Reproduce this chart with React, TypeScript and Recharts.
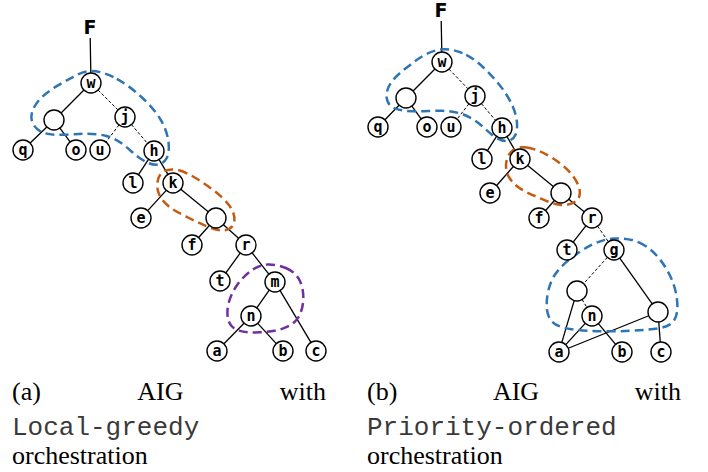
import { ComposedChart, XAxis, YAxis, Scatter, Line, ReferenceLine } from 'recharts'

const W = 708
const H = 472
const R = 10

type Node = { id: string; x: number; y: number; label: string; kind?: 'out' | 'blank' }
type Edge = [string, string, boolean?]
type Pt = { x: number; y: number }

// (a) Local-greedy
const nodesA: Node[] = [
  { id: 'F', x: 90, y: 27, label: 'F', kind: 'out' },
  { id: 'w', x: 91, y: 83, label: 'w' },
  { id: 'g1', x: 54, y: 120, label: '', kind: 'blank' },
  { id: 'j', x: 125, y: 117, label: 'j' },
  { id: 'q', x: 23, y: 150, label: 'q' },
  { id: 'o', x: 76, y: 150, label: 'o' },
  { id: 'u', x: 100, y: 150, label: 'u' },
  { id: 'h', x: 154, y: 151, label: 'h' },
  { id: 'l', x: 133, y: 183, label: 'l' },
  { id: 'k', x: 173, y: 183, label: 'k' },
  { id: 'e', x: 141, y: 218, label: 'e' },
  { id: 'g2', x: 216, y: 218, label: '', kind: 'blank' },
  { id: 'f', x: 192, y: 245, label: 'f' },
  { id: 'r', x: 246, y: 245, label: 'r' },
  { id: 't', x: 220, y: 281, label: 't' },
  { id: 'm', x: 275, y: 282, label: 'm' },
  { id: 'n', x: 251, y: 316, label: 'n' },
  { id: 'a', x: 217, y: 351, label: 'a' },
  { id: 'b', x: 283, y: 351, label: 'b' },
  { id: 'c', x: 316, y: 351, label: 'c' },
]

const edgesA: Edge[] = [
  ['F', 'w'], ['w', 'g1'], ['w', 'j', true], ['g1', 'q'], ['g1', 'o'],
  ['j', 'u', true], ['j', 'h', true], ['h', 'l'], ['h', 'k'], ['k', 'e'],
  ['k', 'g2'], ['g2', 'f'], ['g2', 'r'], ['r', 't'], ['r', 'm'],
  ['m', 'n'], ['m', 'c'], ['n', 'a'], ['n', 'b'],
]

// (b) Priority-ordered
const nodesB: Node[] = [
  { id: 'F', x: 441, y: 10, label: 'F', kind: 'out' },
  { id: 'w', x: 442, y: 62, label: 'w' },
  { id: 'g1', x: 406, y: 98, label: '', kind: 'blank' },
  { id: 'j', x: 475, y: 96, label: 'j' },
  { id: 'q', x: 378, y: 127, label: 'q' },
  { id: 'o', x: 427, y: 127, label: 'o' },
  { id: 'u', x: 451, y: 127, label: 'u' },
  { id: 'h', x: 502, y: 128, label: 'h' },
  { id: 'l', x: 482, y: 159, label: 'l' },
  { id: 'k', x: 520, y: 159, label: 'k' },
  { id: 'e', x: 490, y: 193, label: 'e' },
  { id: 'g2', x: 561, y: 193, label: '', kind: 'blank' },
  { id: 'f', x: 539, y: 218, label: 'f' },
  { id: 'r', x: 592, y: 218, label: 'r' },
  { id: 't', x: 567, y: 250, label: 't' },
  { id: 'g', x: 614, y: 250, label: 'g' },
  { id: 'g3', x: 577, y: 291, label: '', kind: 'blank' },
  { id: 'n', x: 592, y: 316, label: 'n' },
  { id: 'g4', x: 658, y: 312, label: '', kind: 'blank' },
  { id: 'a', x: 559, y: 352, label: 'a' },
  { id: 'b', x: 622, y: 352, label: 'b' },
  { id: 'c', x: 661, y: 352, label: 'c' },
]

const edgesB: Edge[] = [
  ['F', 'w'], ['w', 'g1'], ['w', 'j', true], ['g1', 'q'], ['g1', 'o'],
  ['j', 'u', true], ['j', 'h', true], ['h', 'l'], ['h', 'k'], ['k', 'e'],
  ['k', 'g2'], ['g2', 'f'], ['g2', 'r'], ['r', 't'], ['r', 'g', true],
  ['g', 'g3', true], ['g', 'g4'], ['g3', 'a'], ['g3', 'n', true],
  ['n', 'a'], ['n', 'b'], ['g4', 'a'], ['g4', 'c'],
]

// dashed groupings
const blueA: Pt[] = [
  { x: 90, y: 68 }, { x: 117, y: 77 }, { x: 143, y: 97 }, { x: 163, y: 120 },
  { x: 170, y: 143 }, { x: 168, y: 160 }, { x: 157, y: 167 }, { x: 140, y: 160 },
  { x: 123, y: 143 }, { x: 107, y: 135 }, { x: 87, y: 133 }, { x: 67, y: 135 },
  { x: 43, y: 135 }, { x: 32, y: 125 }, { x: 30, y: 113 }, { x: 40, y: 97 },
  { x: 58, y: 85 }, { x: 73, y: 77 },
]
const orangeA: Pt[] = [
  { x: 162, y: 170 }, { x: 178, y: 168 }, { x: 200, y: 180 }, { x: 223, y: 197 },
  { x: 235, y: 212 }, { x: 235, y: 227 }, { x: 223, y: 232 }, { x: 207, y: 227 },
  { x: 187, y: 217 }, { x: 167, y: 207 }, { x: 157, y: 193 }, { x: 157, y: 180 },
]
const purpleA: Pt[] = [
  { x: 267, y: 263 }, { x: 287, y: 267 }, { x: 300, y: 277 }, { x: 305, y: 297 },
  { x: 300, y: 320 }, { x: 283, y: 330 }, { x: 260, y: 333 }, { x: 237, y: 332 },
  { x: 227, y: 323 }, { x: 227, y: 303 }, { x: 237, y: 283 }, { x: 253, y: 268 },
]
const blueB1: Pt[] = [
  { x: 442, y: 47 }, { x: 467, y: 53 }, { x: 487, y: 70 }, { x: 507, y: 93 },
  { x: 518, y: 117 }, { x: 517, y: 137 }, { x: 507, y: 143 }, { x: 493, y: 137 },
  { x: 480, y: 123 }, { x: 463, y: 113 }, { x: 443, y: 110 }, { x: 417, y: 112 },
  { x: 393, y: 110 }, { x: 385, y: 100 }, { x: 388, y: 83 }, { x: 407, y: 67 },
  { x: 423, y: 55 },
]
const orangeB: Pt[] = [
  { x: 510, y: 150 }, { x: 525, y: 145 }, { x: 550, y: 155 }, { x: 573, y: 173 },
  { x: 582, y: 192 }, { x: 577, y: 203 }, { x: 560, y: 207 }, { x: 540, y: 198 },
  { x: 520, y: 190 }, { x: 507, y: 177 }, { x: 505, y: 163 },
]
const blueB2: Pt[] = [
  { x: 613, y: 237 }, { x: 640, y: 240 }, { x: 660, y: 257 }, { x: 675, y: 283 },
  { x: 679, y: 310 }, { x: 673, y: 327 }, { x: 647, y: 330 }, { x: 610, y: 332 },
  { x: 567, y: 330 }, { x: 550, y: 323 }, { x: 545, y: 307 }, { x: 550, y: 277 },
  { x: 570, y: 258 }, { x: 593, y: 243 },
]

const blobs: { pts: Pt[]; color: string }[] = [
  { pts: blueA, color: '#2E75B6' },
  { pts: orangeA, color: '#C55A11' },
  { pts: purpleA, color: '#7030A0' },
  { pts: blueB1, color: '#2E75B6' },
  { pts: orangeB, color: '#C55A11' },
  { pts: blueB2, color: '#2E75B6' },
]

// clip an edge to the circle borders
function segment(nodes: Node[], e: Edge): Pt[] {
  const p = nodes.find((n) => n.id === e[0])!
  const q = nodes.find((n) => n.id === e[1])!
  const dx = q.x - p.x
  const dy = q.y - p.y
  const len = Math.hypot(dx, dy)
  const rp = p.kind === 'out' ? 11 : R
  const rq = q.kind === 'out' ? 11 : R
  return [
    { x: p.x + (dx * rp) / len, y: p.y + (dy * rp) / len },
    { x: q.x - (dx * rq) / len, y: q.y - (dy * rq) / len },
  ]
}

const NodeShape = (props: any) => {
  const { cx, cy, payload } = props
  if (payload.kind === 'out') {
    return (
      <text x={cx} y={cy} dy={7} textAnchor="middle" fontFamily="DejaVu Sans" fontWeight="bold" fontSize={19} fill="#000">
        {payload.label}
      </text>
    )
  }
  return (
    <g>
      <circle cx={cx} cy={cy} r={R} fill="#fff" stroke="#000" strokeWidth={1.4} />
      {payload.label ? (
        <text x={cx} y={cy} dy={5} textAnchor="middle" fontFamily="DejaVu Sans Mono" fontWeight="bold" fontSize={15} fill="#000">
          {payload.label}
        </text>
      ) : null}
    </g>
  )
}

const serif = { fontFamily: '"Liberation Serif", "Times New Roman", serif', fontSize: 26, lineHeight: '31px', color: '#000' }
const mono = { fontFamily: '"Liberation Mono", monospace', fontSize: 26, lineHeight: '31px', color: '#3a3a3a' }

function Caption({ left, tag, code }: { left: number; tag: string; code: string }) {
  return (
    <>
      <div style={{ ...serif, position: 'absolute', left, top: 376, width: 314, display: 'flex', justifyContent: 'space-between' }}>
        <span>{tag}</span>
        <span>AIG</span>
        <span>with</span>
      </div>
      <div style={{ ...mono, position: 'absolute', left, top: 413 }}>{code}</div>
      <div style={{ ...serif, position: 'absolute', left, top: 440 }}>orchestration</div>
    </>
  )
}

export default function App() {
  return (
    <div style={{ position: 'absolute', left: 0, top: 0, width: W, height: H, background: '#fff' }}>
      <ComposedChart width={W} height={H} margin={{ top: 0, right: 0, bottom: 0, left: 0 }}>
        <XAxis type="number" dataKey="x" domain={[0, W]} allowDataOverflow hide />
        <YAxis type="number" dataKey="y" domain={[0, H]} allowDataOverflow reversed hide />
        {edgesA.map((e, i) => (
          <ReferenceLine key={'ea' + i} segment={segment(nodesA, e)} stroke="#000" strokeWidth={e[2] ? 1 : 1.3} strokeDasharray={e[2] ? '3 2' : undefined} ifOverflow="visible" />
        ))}
        {edgesB.map((e, i) => (
          <ReferenceLine key={'eb' + i} segment={segment(nodesB, e)} stroke="#000" strokeWidth={e[2] ? 1 : 1.3} strokeDasharray={e[2] ? '3 2' : undefined} ifOverflow="visible" />
        ))}
        {blobs.map((b, i) => (
          <Line
            key={'blob' + i}
            data={b.pts}
            dataKey="y"
            type="basisClosed"
            stroke={b.color}
            strokeWidth={2.5}
            strokeDasharray="9 5"
            dot={false}
            activeDot={false}
            legendType="none"
            isAnimationActive={false}
          />
        ))}
        <Scatter data={nodesA} shape={NodeShape} isAnimationActive={false} />
        <Scatter data={nodesB} shape={NodeShape} isAnimationActive={false} />
      </ComposedChart>
      <Caption left={12} tag="(a)" code="Local-greedy" />
      <Caption left={367} tag="(b)" code="Priority-ordered" />
    </div>
  )
}
